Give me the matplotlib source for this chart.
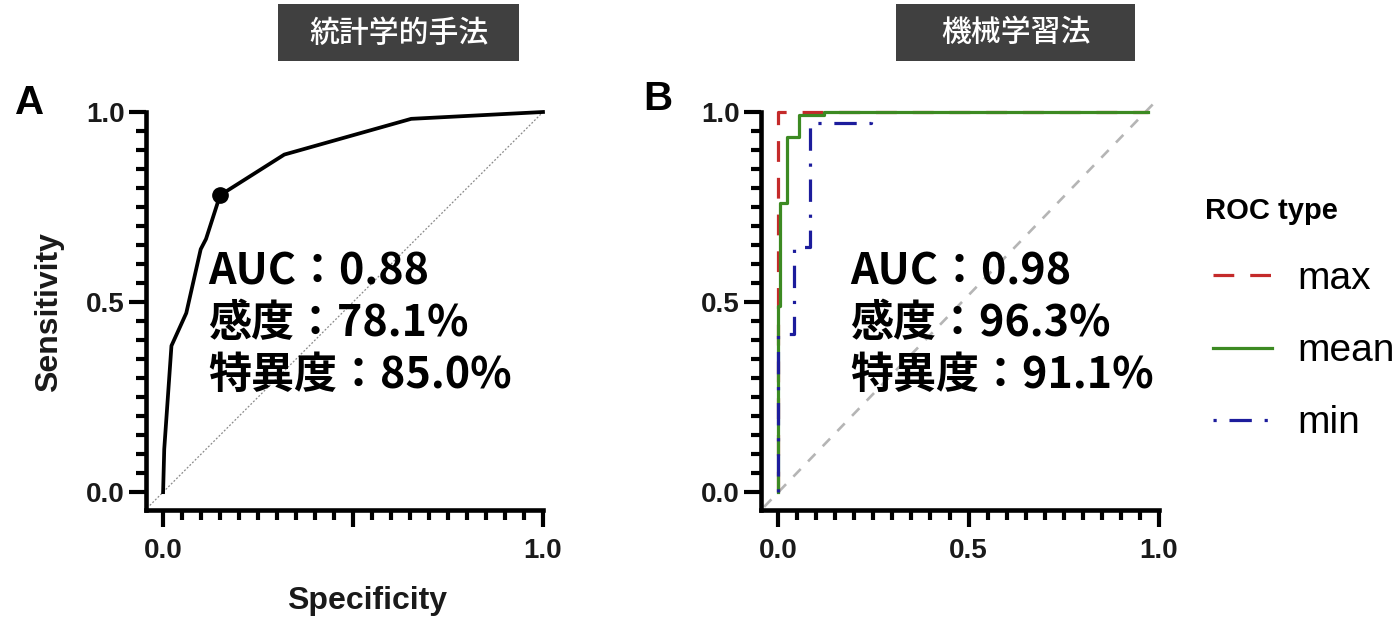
import matplotlib
matplotlib.use("Agg")
import matplotlib.pyplot as plt
from matplotlib.ticker import MultipleLocator, FixedLocator
from matplotlib.patches import Rectangle
from matplotlib.font_manager import FontProperties

# ---------------- data ----------------
# Panel A: statistical method ROC (x = 1 - specificity, y = sensitivity)
a_fpr = [0.0, 0.003, 0.022, 0.061, 0.099, 0.113, 0.150, 0.319, 0.653, 1.0]
a_tpr = [0.0, 0.113, 0.385, 0.471, 0.639, 0.666, 0.781, 0.888, 0.982, 1.0]
a_cut_fpr = [0.150]
a_cut_tpr = [0.781]

# Panel B: machine learning ROC curves
b_max_fpr = [0.0, 0.0, 0.97]
b_max_tpr = [0.0, 1.0, 1.0]
b_mean_fpr = [0.0, 0.0, 0.006, 0.006, 0.022, 0.022, 0.056, 0.056, 0.12, 0.12, 0.97]
b_mean_tpr = [0.0, 0.49, 0.49, 0.76, 0.76, 0.935, 0.935, 0.993, 0.993, 1.0, 1.0]
b_min_fpr = [0.0, 0.0, 0.042, 0.042, 0.083, 0.083, 0.245, 0.245]
b_min_tpr = [0.0, 0.415, 0.415, 0.645, 0.645, 0.97, 0.97, 0.985]

roc_types = ["max", "mean", "min"]
legend_title = "ROC type"
headers = ["統計学的手法", "機械学習法"]
panel_letters = ["A", "B"]
a_stats = ["AUC：0.88", "感度：78.1%", "特異度：85.0%"]
b_stats = ["AUC：0.98", "感度：96.3%", "特異度：91.1%"]
tick_vals = [0.0, 0.5, 1.0]
a_xticklabels = ["0.0", "", "1.0"]
tick_labels = ["0.0", "0.5", "1.0"]

# ---------------- figure ----------------
W, H = 1395, 621
fig = plt.figure(figsize=(W / 100, H / 100), dpi=100)

JP = ["Noto Sans CJK JP", "DejaVu Sans"]
SANS = ["Liberation Sans", "DejaVu Sans"]


def px_axes(left, bottom, width, height):
    return fig.add_axes([left / W, 1 - bottom / H, width / W, height / H])


def style_axes(ax, xticklabels):
    ax.set_xlim(-0.045, 1.0)
    ax.set_ylim(-0.047, 1.0)
    for s in ["top", "right"]:
        ax.spines[s].set_visible(False)
    for s in ["left", "bottom"]:
        ax.spines[s].set_linewidth(3.3)
        ax.spines[s].set_color("black")
    ax.xaxis.set_major_locator(FixedLocator(tick_vals))
    ax.yaxis.set_major_locator(FixedLocator(tick_vals))
    ax.xaxis.set_minor_locator(MultipleLocator(0.05))
    ax.yaxis.set_minor_locator(MultipleLocator(0.05))
    ax.set_xticklabels(xticklabels)
    ax.set_yticklabels(tick_labels)
    ax.tick_params(axis="both", which="major", length=12.5, width=3.0, color="black")
    ax.tick_params(axis="both", which="minor", length=7.5, width=3.0, color="black")
    ax.tick_params(axis="x", which="major", pad=8)
    ax.tick_params(axis="y", which="major", pad=3)
    for lab in ax.get_xticklabels() + ax.get_yticklabels():
        lab.set_fontfamily(SANS)
        lab.set_fontweight("bold")
        lab.set_fontsize(20)
        lab.set_color("#1a1a1a")


# ---- Panel A ----
axA = px_axes(146, 510, 397, 398)
style_axes(axA, a_xticklabels)
axA.plot([-0.035, 1.0], [-0.035, 1.0], color="#8a8a8a", lw=0.9,
         linestyle=(0, (1.5, 1.5)), zorder=1, clip_on=False)
axA.plot(a_fpr, a_tpr, color="black", lw=2.7, zorder=3, clip_on=False,
         solid_joinstyle="round")
axA.plot(a_cut_fpr, a_cut_tpr, "o", color="black", ms=11, zorder=4, clip_on=False)
for i, s in enumerate(a_stats):
    axA.text(0.118, 0.547 - i * 0.137, s, fontsize=31, fontweight="bold",
             family=JP, va="baseline", ha="left", zorder=5)

# ---- Panel B ----
axB = px_axes(761, 510, 398, 398)
style_axes(axB, tick_labels)
axB.plot([-0.037, 1.0], [-0.039, 1.037], color="#b5b5b5", lw=1.9,
         linestyle=(0, (4, 4)), zorder=1, clip_on=False)
l_max, = axB.plot(b_max_fpr, b_max_tpr, color="#c42a2a", lw=2.3,
                  linestyle=(0, (6.5, 5)), zorder=2, clip_on=False, label=roc_types[0])
l_mean, = axB.plot(b_mean_fpr, b_mean_tpr, color="#3c8a22", lw=2.3,
                   zorder=3, clip_on=False, label=roc_types[1])
l_min, = axB.plot(b_min_fpr, b_min_tpr, color="#1c1c9c", lw=2.3,
                  linestyle=(0, (1, 4, 7, 4)), zorder=4, clip_on=False, label=roc_types[2])
for i, s in enumerate(b_stats):
    axB.text(0.189, 0.547 - i * 0.137, s, fontsize=31, fontweight="bold",
             family=JP, va="baseline", ha="left", zorder=5)

# ---- legend ----
fig.text(1205 / W, 1 - 211 / H, legend_title, fontsize=21, fontweight="bold",
         family=SANS, ha="left", va="center")
leg = fig.legend(handles=[l_max, l_mean, l_min], labels=roc_types,
                 loc="upper left", bbox_to_anchor=(1213 / W, 1 - 261 / H),
                 frameon=False,
                 prop=FontProperties(family="Liberation Sans", size=28),
                 handlelength=1.52, handletextpad=0.65, labelspacing=0.93,
                 borderpad=0, borderaxespad=0)

# ---- axis labels ----
fig.text(49 / W, 1 - 312 / H, "Sensitivity", rotation=90, fontsize=23,
         fontweight="bold", family=SANS, ha="center", va="center", color="#1a1a1a")
fig.text(367 / W, 1 - 601 / H, "Specificity", fontsize=23,
         fontweight="bold", family=SANS, ha="center", va="center", color="#1a1a1a")

# ---- panel letters ----
fig.text(30 / W, 1 - 103 / H, panel_letters[0], fontsize=29, fontweight="bold",
         family=SANS, ha="center", va="center")
fig.text(658 / W, 1 - 99 / H, panel_letters[1], fontsize=29, fontweight="bold",
         family=SANS, ha="center", va="center")

# ---- header boxes ----
for (x0, x1), txt in zip([(278, 519), (896, 1135)], headers):
    fig.patches.append(Rectangle((x0 / W, 1 - 61 / H), (x1 - x0) / W, 57 / H,
                                 transform=fig.transFigure, facecolor="#404040",
                                 edgecolor="none", zorder=0))
    fig.text((x0 + x1) / 2 / W, 1 - 33 / H, txt, fontsize=21.5, fontweight=500,
             family=JP, color="white", ha="center", va="center")

fig.savefig("out.png", dpi=100)
